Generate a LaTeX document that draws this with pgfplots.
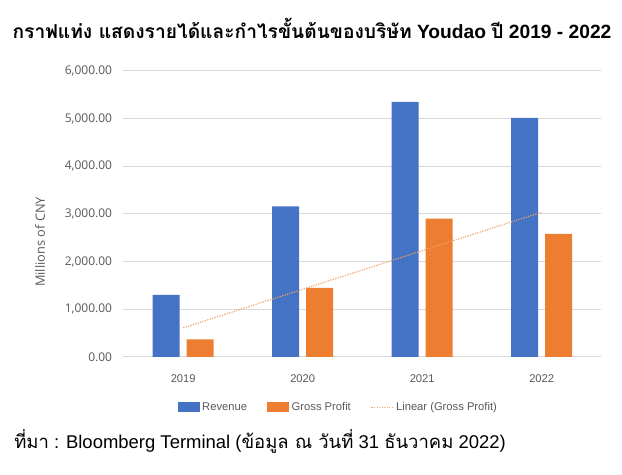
\documentclass[border=0pt]{standalone}
\usepackage{fontspec}
\setmainfont{Liberation Sans}
\newfontfamily\thai[Script=Thai]{Loma}
\newfontfamily\osans{Open Sans}
\usepackage{pgfplots}
\pgfplotsset{compat=1.18}
\definecolor{revblue}{HTML}{4472C4}
\definecolor{gporange}{HTML}{ED7D31}
\definecolor{trendor}{HTML}{F2A36B}
\definecolor{gridgray}{HTML}{D9D9D9}
\definecolor{txtgray}{HTML}{595959}

\begin{document}
\begin{tikzpicture}
\path[use as bounding box] (0,0) rectangle (466.5pt,356.25pt);

% title
\node[font=\fontsize{14.4}{16}\selectfont\bfseries, anchor=center] at (234pt,335.25pt)
  {{\thai\bfseries กราฟแท่ง แสดงรายได้และกำไรขั้นต้นของบริษัท} Youdao {\thai\bfseries ปี} 2019 - 2022};

\begin{axis}[
    at={(92.6pt,88.5pt)}, anchor=south west,
    scale only axis,
    width=358.5pt, height=214.7pt,
    xmin=0.5, xmax=4.5,
    ymin=0, ymax=6000,
    xtick={1,2,3,4},
    xticklabels={2019,2020,2021,2022},
    ytick={0,1000,...,6000},
    ymajorgrids=true,
    grid style={gridgray, line width=0.75pt},
    axis line style={draw=none},
    tick style={draw=none},
    /pgf/number format/assume math mode=true,
    yticklabel={\pgfmathprintnumber[fixed, fixed zerofill, precision=2, 1000 sep={,}]{\tick}},
    yticklabel style={font=\osans\fontsize{9}{10}\selectfont, text=txtgray, xshift=-5pt},
    xticklabel style={font=\fontsize{8.4}{10}\selectfont, text=txtgray, yshift=-9.5pt},
    legend style={at={(0.4500,-0.1764)}, anchor=center, draw=none, fill=none,
      font=\fontsize{8.4}{10}\selectfont, text=txtgray,
      /tikz/every even column/.append style={column sep=13pt}},
    legend columns=3,
    legend cell align=left,
  ]
  \addplot[ybar, bar width=20.25pt, bar shift=-12.75pt, fill=revblue, draw=none,
    legend image code/.code={\fill[revblue] (0pt,-3.75pt) rectangle (16.5pt,3.75pt);}]
    coordinates {(1,1300) (2,3155) (3,5350) (4,5010)};
  \addlegendentry{Revenue}
  \addplot[ybar, bar width=20.25pt, bar shift=12.75pt, fill=gporange, draw=none,
    legend image code/.code={\fill[gporange] (0pt,-3.75pt) rectangle (16.5pt,3.75pt);}]
    coordinates {(1,370) (2,1447) (3,2900) (4,2580)};
  \addlegendentry{Gross Profit}
  \addplot[trendor, densely dotted, line width=0.9pt, mark=none,
    legend image code/.code={\draw[trendor, densely dotted, line width=0.9pt] (0pt,0pt) -- (16pt,0pt);}]
    coordinates {(1,612) (4,3036)};
  \addlegendentry{Linear (Gross Profit)}
\end{axis}

% y axis label
\node[font=\osans\fontsize{9.6}{11}\selectfont, text=txtgray, rotate=90] at (30pt,174.75pt) {Millions of CNY};

% source
\node[font=\fontsize{13.85}{16}\selectfont, anchor=west, inner sep=0pt] at (10.5pt,25.5pt)
  {{\thai ที่มา} : Bloomberg Terminal ({\thai ข้อมูล ณ วันที่} 31 {\thai ธันวาคม} 2022)};
\end{tikzpicture}
\end{document}
